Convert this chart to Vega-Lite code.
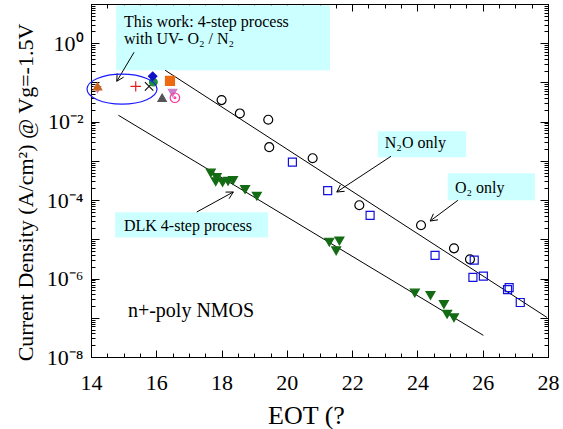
{
  "$schema": "https://vega.github.io/schema/vega-lite/v6.json",
  "width": 457,
  "height": 353,
  "autosize": "none",
  "padding": {"left": 91, "top": 4, "right": 15, "bottom": 72},
  "background": "white",
  "config": {
    "view": {"stroke": "black", "strokeWidth": 1},
    "font": "Liberation Serif",
    "axis": {"labelFont": "Liberation Serif", "titleFont": "Liberation Serif"},
    "style": {"guide-label": {"font": "Liberation Serif"}, "guide-title": {"font": "Liberation Serif"}},
    "text": {"font": "Liberation Serif"}
  },
  "datasets": {
    "boxes": [
      {"eot": 14.77, "eot2": 21.32, "j": 0.204, "j2": 9.3},
      {"eot": 22.79, "eot2": 25.49, "j": 0.001236, "j2": 0.00569},
      {"eot": 24.93, "eot2": 27.6, "j": 9.9e-5, "j2": 4.83e-4},
      {"eot": 14.74, "eot2": 19.42, "j": 1.12e-5, "j2": 4.89e-5}
    ],
    "segs": [
      {"part": "fit O2", "eot": 16.27, "j": 0.2047, "eot2": 27.97, "j2": 1.02e-7},
      {"part": "fit DLK", "eot": 14.84, "j": 0.01456, "eot2": 26.02, "j2": 3.56e-8},
      {"part": "arrow this work", "eot": 15.32, "j": 0.589, "eot2": 14.79, "j2": 0.1073},
      {"part": "arrow this work", "eot": 14.79, "j": 0.1073, "eot2": 15.0, "j2": 0.1365},
      {"part": "arrow this work", "eot": 14.79, "j": 0.1073, "eot2": 14.8, "j2": 0.1717},
      {"part": "arrow N2O", "eot": 23.19, "j": 0.00131, "eot2": 21.53, "j2": 1.61e-4},
      {"part": "arrow N2O", "eot": 21.53, "j": 1.61e-4, "eot2": 21.77, "j2": 1.676e-4},
      {"part": "arrow N2O", "eot": 21.53, "j": 1.61e-4, "eot2": 21.64, "j2": 2.43e-4},
      {"part": "arrow O2", "eot": 25.24, "j": 9.89e-5, "eot2": 24.39, "j2": 2.93e-5},
      {"part": "arrow O2", "eot": 24.39, "j": 2.93e-5, "eot2": 24.63, "j2": 3.14e-5},
      {"part": "arrow O2", "eot": 24.39, "j": 2.93e-5, "eot2": 24.49, "j2": 4.48e-5},
      {"part": "arrow DLK", "eot": 17.24, "j": 4.97e-5, "eot2": 18.36, "j2": 1.61e-4},
      {"part": "arrow DLK", "eot": 18.36, "j": 1.61e-4, "eot2": 18.12, "j2": 1.6e-4},
      {"part": "arrow DLK", "eot": 18.36, "j": 1.61e-4, "eot2": 18.23, "j2": 1.086e-4}
    ],
    "pts": [
      {"series": "O2", "eot": 18.0, "j": 0.0355},
      {"series": "O2", "eot": 18.56, "j": 0.0162},
      {"series": "O2", "eot": 19.43, "j": 0.0112},
      {"series": "O2", "eot": 19.46, "j": 0.00224},
      {"series": "O2", "eot": 20.79, "j": 0.00117},
      {"series": "O2", "eot": 22.22, "j": 7.4e-5},
      {"series": "O2", "eot": 24.11, "j": 2.29e-5},
      {"series": "O2", "eot": 25.12, "j": 5.9e-6},
      {"series": "O2", "eot": 25.61, "j": 3.09e-6},
      {"series": "N2O", "eot": 20.17, "j": 9.3e-4},
      {"series": "N2O", "eot": 21.25, "j": 1.74e-4},
      {"series": "N2O", "eot": 22.55, "j": 4.07e-5},
      {"series": "N2O", "eot": 24.54, "j": 3.89e-6},
      {"series": "N2O", "eot": 25.74, "j": 2.95e-6},
      {"series": "N2O", "eot": 25.7, "j": 1.07e-6},
      {"series": "N2O", "eot": 26.02, "j": 1.15e-6},
      {"series": "N2O", "eot": 26.76, "j": 5.25e-7},
      {"series": "N2O", "eot": 26.81, "j": 5.89e-7},
      {"series": "N2O", "eot": 27.15, "j": 2.45e-7},
      {"series": "DLK", "eot": 17.67, "j": 4.9e-4},
      {"series": "DLK", "eot": 17.85, "j": 3.8e-4},
      {"series": "DLK", "eot": 17.82, "j": 2.95e-4},
      {"series": "DLK", "eot": 18.03, "j": 2.82e-4},
      {"series": "DLK", "eot": 18.2, "j": 3.02e-4},
      {"series": "DLK", "eot": 18.35, "j": 3.16e-4},
      {"series": "DLK", "eot": 18.72, "j": 1.86e-4},
      {"series": "DLK", "eot": 19.08, "j": 1.26e-4},
      {"series": "DLK", "eot": 21.3, "j": 8.5e-6},
      {"series": "DLK", "eot": 21.61, "j": 9.1e-6},
      {"series": "DLK", "eot": 21.51, "j": 5.1e-6},
      {"series": "DLK", "eot": 23.92, "j": 4.27e-7},
      {"series": "DLK", "eot": 24.4, "j": 3.72e-7},
      {"series": "DLK", "eot": 24.81, "j": 2.19e-7},
      {"series": "DLK", "eot": 24.91, "j": 1.23e-7},
      {"series": "DLK", "eot": 25.12, "j": 1.0e-7},
      {"series": "tw_pink", "eot": 14.2, "j": 0.066},
      {"series": "tw_orange", "eot": 14.2, "j": 0.0794},
      {"series": "tw_plus", "eot": 15.37, "j": 0.0794},
      {"series": "tw_x", "eot": 15.78, "j": 0.0794},
      {"series": "tw_green", "eot": 15.91, "j": 0.102},
      {"series": "tw_diamond", "eot": 15.89, "j": 0.1445},
      {"series": "tw_square", "eot": 16.42, "j": 0.1096},
      {"series": "tw_gray", "eot": 16.18, "j": 0.0407},
      {"series": "tw_violet", "eot": 16.5, "j": 0.0537},
      {"series": "tw_pinkdot", "eot": 16.57, "j": 0.0407}
    ],
    "labels": [
      {"text": "This work: 4-step process", "eot": 15.01, "j": 2.56},
      {"text": "with UV- O₂ / N₂", "eot": 15.01, "j": 0.97},
      {"text": "N₂O only", "eot": 23.0, "j": 0.00209},
      {"text": "O₂ only", "eot": 25.15, "j": 1.49e-4},
      {"text": "DLK 4-step process", "eot": 15.01, "j": 1.6e-5}
    ],
    "note": [
      {"text": "n+-poly NMOS", "eot": 15.13, "j": 1.02e-7}
    ],
    "ellipse": [
      {"eot": 14.95, "j": 0.0676}
    ]
  },
  "resolve": {"axis": {"x": "independent", "y": "independent"}},
  "layer": [
    {
      "data": {"name": "boxes"},
      "mark": {"type": "rect", "fill": "#ccffff", "stroke": null},
      "encoding": {
        "x": {
          "field": "eot", "type": "quantitative",
          "scale": {"domain": [14, 28], "nice": false, "zero": false},
          "axis": {
            "orient": "bottom",
            "values": [14, 14.5, 15, 15.5, 16, 16.5, 17, 17.5, 18, 18.5, 19, 19.5, 20, 20.5, 21, 21.5, 22, 22.5, 23, 23.5, 24, 24.5, 25, 25.5, 26, 26.5, 27, 27.5, 28],
            "labelExpr": "datum.value % 2 === 0 ? format(datum.value, 'd') : ''",
            "tickSize": {"condition": {"test": "datum.value % 2 === 0", "value": -7}, "value": -4},
            "tickColor": "black",
            "domainColor": "black",
            "labelPadding": 22,
            "labelBaseline": "top",
            "labelFont": "Liberation Serif",
            "labelFontSize": 22,
            "labelColor": "black",
            "labelOverlap": false,
            "labelFlush": false,
            "grid": false,
            "title": "EOT (?",
            "titleFont": "Liberation Serif",
            "titleFontSize": 26,
            "titleFontWeight": "normal",
            "titleColor": "black",
            "titleX": 215,
            "titleY": 66,
            "titleBaseline": "alphabetic",
            "titleAlign": "center"
          }
        },
        "x2": {"field": "eot2"},
        "y": {
          "field": "j", "type": "quantitative",
          "scale": {"type": "log", "domain": [1e-8, 10], "nice": false},
          "axis": {
            "orient": "left",
            "values": [1e-8, 2e-8, 3e-8, 4e-8, 5e-8, 6e-8, 7e-8, 8e-8, 9e-8, 1e-7, 2e-7, 3e-7, 4e-7, 5e-7, 6e-7, 7e-7, 8e-7, 9e-7, 1e-6, 2e-6, 3e-6, 4e-6, 5e-6, 6e-6, 7e-6, 8e-6, 9e-6, 1e-5, 2e-5, 3e-5, 4e-5, 5e-5, 6e-5, 7e-5, 8e-5, 9e-5, 1e-4, 2e-4, 3e-4, 4e-4, 5e-4, 6e-4, 7e-4, 8e-4, 9e-4, 1e-3, 2e-3, 3e-3, 4e-3, 5e-3, 6e-3, 7e-3, 8e-3, 9e-3, 1e-2, 2e-2, 3e-2, 4e-2, 5e-2, 6e-2, 7e-2, 8e-2, 9e-2, 1e-1, 2e-1, 3e-1, 4e-1, 5e-1, 6e-1, 7e-1, 8e-1, 9e-1, 1, 2, 3, 4, 5, 6, 7, 8, 9, 10],
            "labelExpr": "abs(datum.value - pow(10, round(log(datum.value)/LN10))) > 0.001*datum.value ? '' : round(log(datum.value)/LN10) === 0 ? '10⁰' : round(log(datum.value)/LN10) === -2 ? '10⁻²' : round(log(datum.value)/LN10) === -4 ? '10⁻⁴' : round(log(datum.value)/LN10) === -6 ? '10⁻⁶' : round(log(datum.value)/LN10) === -8 ? '10⁻⁸' : ''",
            "tickSize": {"condition": {"test": "abs(datum.value - pow(10, round(log(datum.value)/LN10))) < 0.001*datum.value", "value": -8}, "value": -4},
            "tickColor": "black",
            "domainColor": "black",
            "labelPadding": 16,
            "labelFont": "Liberation Serif",
            "labelFontSize": 22,
            "labelColor": "black",
            "labelOverlap": false,
            "labelFlush": false,
            "grid": false,
            "title": "Current Density (A/cm²) @ Vg=-1.5V",
            "titleFont": "Liberation Serif",
            "titleFontSize": 22,
            "titleFontWeight": "normal",
            "titleColor": "black",
            "titleAngle": -90,
            "titleX": -59,
            "titleY": 188,
            "titleBaseline": "alphabetic",
            "titleAlign": "center"
          }
        },
        "y2": {"field": "j2"}
      }
    },
    {
      "data": {"name": "segs"},
      "mark": {"type": "rule", "color": "black", "strokeWidth": 1},
      "encoding": {
        "x": {
          "field": "eot", "type": "quantitative",
          "scale": {"domain": [14, 28], "nice": false, "zero": false},
          "axis": {
            "orient": "top",
            "values": [14, 14.5, 15, 15.5, 16, 16.5, 17, 17.5, 18, 18.5, 19, 19.5, 20, 20.5, 21, 21.5, 22, 22.5, 23, 23.5, 24, 24.5, 25, 25.5, 26, 26.5, 27, 27.5, 28],
            "labels": false,
            "tickSize": {"condition": {"test": "datum.value % 2 === 0", "value": -7}, "value": -4},
            "tickColor": "black",
            "domainColor": "black",
            "grid": false,
            "title": null
          }
        },
        "x2": {"field": "eot2"},
        "y": {
          "field": "j", "type": "quantitative",
          "scale": {"type": "log", "domain": [1e-8, 10], "nice": false},
          "axis": {
            "orient": "right",
            "values": [1e-8, 2e-8, 3e-8, 4e-8, 5e-8, 6e-8, 7e-8, 8e-8, 9e-8, 1e-7, 2e-7, 3e-7, 4e-7, 5e-7, 6e-7, 7e-7, 8e-7, 9e-7, 1e-6, 2e-6, 3e-6, 4e-6, 5e-6, 6e-6, 7e-6, 8e-6, 9e-6, 1e-5, 2e-5, 3e-5, 4e-5, 5e-5, 6e-5, 7e-5, 8e-5, 9e-5, 1e-4, 2e-4, 3e-4, 4e-4, 5e-4, 6e-4, 7e-4, 8e-4, 9e-4, 1e-3, 2e-3, 3e-3, 4e-3, 5e-3, 6e-3, 7e-3, 8e-3, 9e-3, 1e-2, 2e-2, 3e-2, 4e-2, 5e-2, 6e-2, 7e-2, 8e-2, 9e-2, 1e-1, 2e-1, 3e-1, 4e-1, 5e-1, 6e-1, 7e-1, 8e-1, 9e-1, 1, 2, 3, 4, 5, 6, 7, 8, 9, 10],
            "labels": false,
            "tickSize": {"condition": {"test": "abs(datum.value - pow(10, round(log(datum.value)/LN10))) < 0.001*datum.value", "value": -8}, "value": -4},
            "tickColor": "black",
            "domainColor": "black",
            "grid": false,
            "title": null
          }
        },
        "y2": {"field": "j2"}
      }
    },
    {
      "data": {"name": "pts"},
      "mark": {"type": "point", "strokeWidth": 1.2, "opacity": 1},
      "encoding": {
        "x": {"field": "eot", "type": "quantitative", "axis": null},
        "y": {"field": "j", "type": "quantitative", "axis": null},
        "shape": {
          "field": "series", "type": "nominal", "legend": null,
          "scale": {
            "domain": ["O2", "N2O", "DLK", "tw_pink", "tw_orange", "tw_plus", "tw_x", "tw_green", "tw_diamond", "tw_square", "tw_gray", "tw_violet", "tw_pinkdot"],
            "range": ["circle", "square", "triangle-down", "triangle-down", "triangle-up", "M -1 0 L 1 0 M 0 -1 L 0 1", "M -0.8 -0.8 L 0.8 0.8 M -0.8 0.8 L 0.8 -0.8", "circle", "diamond", "square", "triangle-up", "triangle-down", "M -1 0 A 1 1 0 1 1 1 0 A 1 1 0 1 1 -1 0 Z M -0.2 0 A 0.2 0.2 0 1 1 0.2 0 A 0.2 0.2 0 1 1 -0.2 0 Z"]
          }
        },
        "stroke": {
          "field": "series", "type": "nominal", "legend": null,
          "scale": {
            "domain": ["O2", "N2O", "DLK", "tw_pink", "tw_orange", "tw_plus", "tw_x", "tw_green", "tw_diamond", "tw_square", "tw_gray", "tw_violet", "tw_pinkdot"],
            "range": ["#000000", "#1010e0", "#136b13", "#e07ab8", "#c8641e", "#e02020", "#111111", "#1f8f3a", "#1010c8", "#ee6a10", "#555555", "#cc80cc", "#ff3399"]
          }
        },
        "fill": {
          "field": "series", "type": "nominal", "legend": null,
          "scale": {
            "domain": ["O2", "N2O", "DLK", "tw_pink", "tw_orange", "tw_plus", "tw_x", "tw_green", "tw_diamond", "tw_square", "tw_gray", "tw_violet", "tw_pinkdot"],
            "range": ["transparent", "transparent", "#136b13", "#e07ab8", "#c8641e", "transparent", "transparent", "#1f8f3a", "#1010c8", "#ee6a10", "#555555", "#cc80cc", "transparent"]
          }
        },
        "size": {
          "field": "series", "type": "nominal", "legend": null,
          "scale": {
            "type": "ordinal",
            "domain": ["O2", "N2O", "DLK", "tw_pink", "tw_orange", "tw_plus", "tw_x", "tw_green", "tw_diamond", "tw_square", "tw_gray", "tw_violet", "tw_pinkdot"],
            "range": [80, 64, 80, 45, 70, 110, 110, 60, 70, 80, 70, 70, 90]
          }
        }
      }
    },
    {
      "data": {"name": "ellipse"},
      "mark": {"type": "point", "shape": "M -1 0 A 1 0.43 0 1 1 1 0 A 1 0.43 0 1 1 -1 0 Z", "size": 4900, "stroke": "#1a1aff", "strokeWidth": 1.2, "fill": "transparent", "filled": false, "opacity": 1},
      "encoding": {
        "x": {"field": "eot", "type": "quantitative", "axis": null},
        "y": {"field": "j", "type": "quantitative", "axis": null}
      }
    },
    {
      "data": {"name": "labels"},
      "mark": {"type": "text", "align": "left", "baseline": "alphabetic", "font": "Liberation Serif", "fontSize": 16, "color": "black"},
      "encoding": {
        "x": {"field": "eot", "type": "quantitative", "axis": null},
        "y": {"field": "j", "type": "quantitative", "axis": null},
        "text": {"field": "text"}
      }
    },
    {
      "data": {"name": "note"},
      "mark": {"type": "text", "align": "left", "baseline": "alphabetic", "font": "Liberation Serif", "fontSize": 20, "color": "black"},
      "encoding": {
        "x": {"field": "eot", "type": "quantitative", "axis": null},
        "y": {"field": "j", "type": "quantitative", "axis": null},
        "text": {"field": "text"}
      }
    }
  ]
}
